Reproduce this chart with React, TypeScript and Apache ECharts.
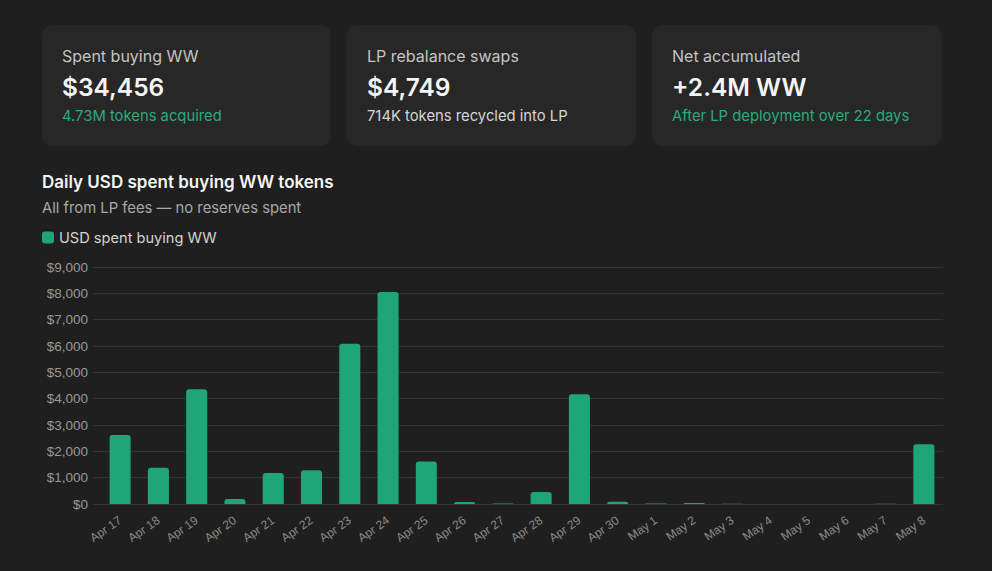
import React, { useEffect, useRef } from "react";
import * as echarts from "echarts";

const categories = [
  "Apr 17", "Apr 18", "Apr 19", "Apr 20", "Apr 21", "Apr 22", "Apr 23", "Apr 24",
  "Apr 25", "Apr 26", "Apr 27", "Apr 28", "Apr 29", "Apr 30", "May 1", "May 2",
  "May 3", "May 4", "May 5", "May 6", "May 7", "May 8",
];
const usdSpent = [
  2620, 1380, 4360, 190, 1180, 1280, 6090, 8050, 1610, 80, 15, 460, 4170, 90, 15, 40,
  10, 0, 0, 0, 10, 2270,
];
const yMax = 9000;
const yInterval = 1000;

const cardLabels = ["Spent buying WW", "LP rebalance swaps", "Net accumulated"];
const cardValues = ["$34,456", "$4,749", "+2.4M WW"];
const cardNotes = ["4.73M tokens acquired", "714K tokens recycled into LP", "After LP deployment over 22 days"];
const cardNoteGreen = [true, false, true];

const chartTitle = "Daily USD spent buying WW tokens";
const chartSubtitle = "All from LP fees — no reserves spent";
const seriesName = "USD spent buying WW";

const BG = "#1f1f1f";
const CARD = "#272727";
const GREEN = "#1ea679";
const GREEN_TEXT = "#2bab7d";
const GRID = "#333333";
const UI_FONT = "Inter, 'Noto Sans', sans-serif";
const AXIS_FONT = "'Liberation Sans', Arial, sans-serif";

export default function App() {
  const ref = useRef<HTMLDivElement>(null);

  useEffect(() => {
    if (!ref.current) return;
    const chart = echarts.init(ref.current, null, { renderer: "svg" });

    const cardW = 289;
    const cardH = 121;
    const cardGap = 16;
    const cardX0 = 42;
    const cardY0 = 25;

    const cardGraphics: any[] = [];
    cardLabels.forEach((label, i) => {
      const x = cardX0 + i * (cardW + cardGap);
      cardGraphics.push({
        type: "rect",
        left: x,
        top: cardY0,
        shape: { width: cardW, height: cardH, r: 10 },
        style: { fill: CARD },
        silent: true,
      });
      cardGraphics.push({
        type: "text",
        x: x + 20,
        y: 56,
        style: {
          text: label,
          fill: "#c4c4c4",
          font: `400 16px ${UI_FONT}`,
          verticalAlign: "middle",
        },
      });
      cardGraphics.push({
        type: "text",
        x: x + 20,
        y: 87,
        style: {
          text: cardValues[i],
          fill: "#f4f4f4",
          font: `600 24.5px ${UI_FONT}`,
          verticalAlign: "middle",
        },
      });
      cardGraphics.push({
        type: "text",
        x: x + 20,
        y: 116,
        style: {
          text: cardNotes[i],
          fill: cardNoteGreen[i] ? GREEN_TEXT : "#d6d6d6",
          font: `400 14.8px ${UI_FONT}`,
          verticalAlign: "middle",
        },
      });
    });

    const option: any = {
      animation: false,
      backgroundColor: BG,
      title: {
        text: chartTitle,
        subtext: chartSubtitle,
        left: 42,
        top: 173,
        padding: 0,
        itemGap: 10,
        textStyle: { color: "#f4f4f4", fontSize: 17, fontWeight: 600, fontFamily: UI_FONT },
        subtextStyle: { color: "#a8a8a8", fontSize: 14.8, fontFamily: UI_FONT },
      },
      legend: {
        left: 42,
        top: 230,
        padding: 0,
        icon: "roundRect",
        itemWidth: 12,
        itemHeight: 12,
        itemGap: 10,
        textStyle: { color: "#d4d4d4", fontSize: 14.6, fontFamily: UI_FONT },
        data: [seriesName],
      },
      graphic: cardGraphics,
      grid: { left: 101, right: 49, top: 267, bottom: 67, containLabel: false },
      xAxis: {
        type: "category",
        data: categories,
        axisLine: { show: false },
        axisTick: { show: false },
        axisLabel: {
          interval: 0,
          rotate: 35,
          margin: 15,
          color: "#8a8a8a",
          fontSize: 12,
          fontFamily: AXIS_FONT,
        },
      },
      yAxis: {
        type: "value",
        min: 0,
        max: yMax,
        interval: yInterval,
        axisLine: { show: false },
        axisTick: { show: true, length: 8, lineStyle: { color: GRID } },
        splitLine: { lineStyle: { color: GRID, width: 1 } },
        axisLabel: {
          margin: 13,
          color: "#999999",
          fontSize: 13.5,
          fontFamily: AXIS_FONT,
          formatter: (v: number) => "$" + v.toLocaleString("en-US"),
        },
      },
      series: [
        {
          name: seriesName,
          type: "bar",
          data: usdSpent,
          barCategoryGap: "45%",
          itemStyle: { color: GREEN, borderRadius: [3, 3, 0, 0] },
        },
      ],
    };

    chart.setOption(option);
    return () => chart.dispose();
  }, []);

  return (
    <div
      ref={ref}
      style={{ position: "fixed", left: 0, top: 0, width: 992, height: 571, background: BG }}
    />
  );
}
